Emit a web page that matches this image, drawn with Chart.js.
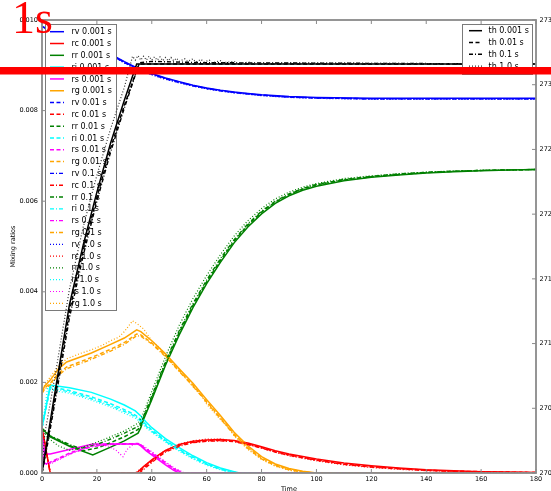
<!DOCTYPE html>
<html>
<head>
<meta charset="utf-8">
<script src="https://cdn.jsdelivr.net/npm/chart.js@4/dist/chart.umd.min.js"></script>
<style>
  html, body { margin: 0; padding: 0; background: #ffffff; }
  canvas { display: block; }
</style>
</head>
<body>
<canvas id="chart" width="551" height="491"></canvas>
<script>
// ---- Mixing ratios [time, value] for each species and time step ----
const rv_0001 = [[0,0.00985],[10,0.00965],[20,0.00940],[27,0.00918],[30,0.00908],[35,0.00893],[40,0.00882],[45,0.00872],[50,0.00864],[55,0.00856],[60,0.00850],[65,0.00845],[70,0.00841],[75,0.00838],[80,0.00835],[90,0.00831],[100,0.00829],[120,0.00827],[150,0.00827],[180,0.00827]];
const rv_001  = [[0,0.00985],[10,0.00964],[20,0.00939],[27,0.00917],[30,0.00907],[35,0.00892],[40,0.00881],[45,0.00871],[50,0.00863],[55,0.00855],[60,0.00849],[65,0.00844],[70,0.00840],[75,0.00837],[80,0.00834],[90,0.00830],[100,0.00828],[120,0.00826],[150,0.00826],[180,0.00826]];
const rv_01   = [[0,0.00985],[10,0.00964],[20,0.00939],[27,0.00916],[30,0.00906],[35,0.00891],[40,0.00880],[45,0.00870],[50,0.00862],[55,0.00855],[60,0.00849],[65,0.00844],[70,0.00840],[75,0.00837],[80,0.00834],[90,0.00830],[100,0.00828],[120,0.00826],[150,0.00826],[180,0.00826]];
const rv_1    = [[0,0.00985],[10,0.00963],[20,0.00937],[27,0.00915],[30,0.00905],[35,0.00890],[40,0.00879],[45,0.00869],[50,0.00861],[55,0.00854],[60,0.00848],[65,0.00843],[70,0.00839],[75,0.00836],[80,0.00833],[90,0.00829],[100,0.00827],[120,0.00825],[150,0.00825],[180,0.00825]];

const rc_0001 = [[0,0.00100],[3,0],[34.5,0],[37,0.00014],[40,0.00029],[42,0.00038],[45,0.00050],[50,0.00063],[55,0.00070],[60,0.00073],[65,0.00074],[70,0.00072],[75,0.00066],[80,0.00058],[85,0.00049],[90,0.00042],[100,0.00031],[110,0.00022],[120,0.00016],[130,0.00011],[140,0.00007],[150,0.00005],[160,0.00003],[170,0.00002],[180,0.00001]];
const rc_001  = [[0,0.00100],[3,0],[35,0],[37.5,0.00013],[40,0.00026],[42,0.00036],[45,0.00048],[50,0.00061],[55,0.00068],[60,0.00071],[65,0.00072],[70,0.00070],[75,0.00064],[80,0.00056],[85,0.00047],[90,0.00040],[100,0.00029],[110,0.00020],[120,0.00014],[130,0.00010],[140,0.00006],[150,0.00004],[160,0.00003],[170,0.00002],[180,0.00001]];
const rc_01   = [[0,0.00100],[3,0],[35.5,0],[38,0.00013],[40,0.00023],[42,0.00033],[45,0.00046],[50,0.00059],[55,0.00067],[60,0.00070],[65,0.00071],[70,0.00069],[75,0.00063],[80,0.00055],[85,0.00046],[90,0.00039],[100,0.00028],[110,0.00019],[120,0.00013],[130,0.00009],[140,0.00006],[150,0.00004],[160,0.00002],[170,0.00001],[180,0.00001]];
const rc_1    = [[0,0.00100],[3,0],[34,0],[36.5,0.00012],[40,0.00028],[42,0.00037],[45,0.00050],[50,0.00064],[55,0.00071],[60,0.00075],[65,0.00075],[70,0.00071],[75,0.00064],[80,0.00055],[85,0.00046],[90,0.00038],[100,0.00027],[110,0.00018],[120,0.00012],[130,0.00008],[140,0.00005],[150,0.00003],[160,0.00002],[170,0.00001],[180,0.00001]];

const rr_0001 = [[0,0.00098],[3,0.00080],[10,0.00059],[18.5,0.00040],[25,0.00057],[30,0.00071],[35,0.00088],[36,0.00100],[37,0.00118],[40,0.00162],[45,0.00238],[50,0.00305],[55,0.00365],[60,0.00418],[65,0.00465],[70,0.00508],[75,0.00543],[80,0.00572],[85,0.00595],[90,0.00612],[95,0.00624],[100,0.00633],[110,0.00645],[120,0.00653],[130,0.00658],[140,0.00662],[150,0.00665],[160,0.00667],[170,0.00669],[180,0.00670]];
const rr_001  = [[0,0.00098],[3,0.00081],[10,0.00061],[15,0.00049],[20,0.00055],[25,0.00067],[30,0.00080],[35,0.00096],[36,0.00106],[37,0.00122],[40,0.00166],[45,0.00242],[50,0.00310],[55,0.00370],[60,0.00422],[65,0.00469],[70,0.00512],[75,0.00547],[80,0.00576],[85,0.00598],[90,0.00615],[95,0.00627],[100,0.00636],[110,0.00647],[120,0.00654],[130,0.00659],[140,0.00663],[150,0.00666],[160,0.00668],[170,0.00669],[180,0.00670]];
const rr_01   = [[0,0.00098],[3,0.00082],[10,0.00063],[14,0.00054],[20,0.00063],[25,0.00075],[30,0.00088],[35,0.00103],[36,0.00111],[37,0.00125],[40,0.00170],[45,0.00246],[50,0.00314],[55,0.00374],[60,0.00426],[65,0.00473],[70,0.00515],[75,0.00550],[80,0.00578],[85,0.00600],[90,0.00616],[95,0.00628],[100,0.00637],[110,0.00648],[120,0.00655],[130,0.00660],[140,0.00664],[150,0.00666],[160,0.00668],[170,0.00669],[180,0.00670]];
const rr_1    = [[0,0.00098],[2,0.00078],[6,0.00060],[10,0.00050],[14,0.00055],[20,0.00068],[25,0.00080],[30,0.00093],[35,0.00110],[36,0.00120],[37,0.00133],[40,0.00180],[45,0.00257],[50,0.00326],[55,0.00385],[60,0.00436],[65,0.00482],[70,0.00523],[75,0.00557],[80,0.00584],[85,0.00605],[90,0.00620],[95,0.00631],[100,0.00639],[110,0.00650],[120,0.00656],[130,0.00661],[140,0.00664],[150,0.00667],[160,0.00668],[170,0.00669],[180,0.00670]];

const ri_0001 = [[0,0.00100],[3,0.00194],[10,0.00188],[18,0.00178],[25,0.00163],[30,0.00150],[34,0.00137],[36,0.00126],[38,0.00112],[40,0.00100],[45,0.00076],[50,0.00056],[55,0.00038],[60,0.00023],[65,0.00011],[70,0.00003],[72,0],[180,0]];
const ri_001  = [[0,0.00100],[3,0.00190],[10,0.00182],[18,0.00168],[25,0.00153],[30,0.00140],[34,0.00128],[36,0.00118],[38,0.00106],[40,0.00095],[45,0.00072],[50,0.00052],[55,0.00035],[60,0.00020],[65,0.00009],[70,0.00002],[71,0],[180,0]];
const ri_01   = [[0,0.00100],[3,0.00188],[10,0.00179],[18,0.00164],[25,0.00149],[30,0.00136],[34,0.00125],[36,0.00115],[38,0.00103],[40,0.00092],[45,0.00070],[50,0.00050],[55,0.00033],[60,0.00019],[65,0.00008],[70,0.00001],[71,0],[180,0]];
const ri_1    = [[0,0.00100],[2,0.00186],[6,0.00180],[10,0.00176],[18,0.00161],[25,0.00146],[30,0.00132],[34,0.00121],[36,0.00112],[38,0.00100],[40,0.00090],[45,0.00068],[50,0.00048],[55,0.00031],[60,0.00017],[65,0.00007],[69,0],[180,0]];

const rs_0001 = [[0,0.00098],[1,0.00042],[3,0.00042],[10,0.00052],[18.5,0.00064],[35,0.00064],[36,0.00060],[38,0.00049],[40,0.00040],[42,0.00031],[45,0.00018],[48,0.00006],[50,0],[180,0]];
const rs_001  = [[0,0.00098],[0.5,0.00022],[3,0.00024],[10,0.00044],[18,0.00060],[25,0.00064],[35,0.00065],[36,0.00062],[38,0.00052],[40,0.00043],[42,0.00034],[45,0.00021],[48,0.00009],[51,0],[180,0]];
const rs_01   = [[0,0.00098],[0.5,0.00020],[3,0.00022],[10,0.00042],[18,0.00058],[25,0.00063],[35,0.00064],[36,0.00062],[38,0.00053],[40,0.00045],[42,0.00036],[45,0.00023],[48,0.00010],[51.5,0],[180,0]];
const rs_1    = [[0,0.00098],[0.5,0.00018],[3,0.00020],[8,0.00035],[14,0.00052],[20,0.00062],[24,0.00060],[27,0.00050],[29.5,0.00036],[31,0.00052],[33,0.00062],[35,0.00064],[36.5,0.00062],[38,0.00055],[40,0.00047],[42,0.00038],[45,0.00025],[48,0.00012],[52,0],[180,0]];

const rg_0001 = [[0,0.00180],[1,0.00192],[3,0.00205],[6,0.00230],[9,0.00245],[18,0.00265],[25,0.00284],[30,0.00298],[34.5,0.00316],[36,0.00312],[40,0.00292],[45,0.00263],[50,0.00230],[55,0.00198],[60,0.00162],[65,0.00127],[70,0.00090],[75,0.00060],[80,0.00036],[85,0.00020],[90,0.00010],[95,0.00004],[100,0],[180,0]];
const rg_001  = [[0,0.00178],[1,0.00188],[3,0.00198],[6,0.00220],[9,0.00234],[18,0.00255],[25,0.00273],[30,0.00288],[34.5,0.00307],[36,0.00305],[40,0.00287],[45,0.00259],[50,0.00226],[55,0.00194],[60,0.00158],[65,0.00122],[70,0.00086],[75,0.00056],[80,0.00033],[85,0.00018],[90,0.00008],[95,0.00003],[99,0],[180,0]];
const rg_01   = [[0,0.00176],[1,0.00185],[3,0.00195],[6,0.00216],[9,0.00230],[18,0.00251],[25,0.00269],[30,0.00284],[34.5,0.00303],[36,0.00302],[40,0.00285],[45,0.00257],[50,0.00224],[55,0.00192],[60,0.00156],[65,0.00120],[70,0.00084],[75,0.00054],[80,0.00031],[85,0.00016],[90,0.00007],[95,0.00002],[98,0],[180,0]];
const rg_1    = [[0,0.00172],[1,0.00195],[3,0.00212],[6,0.00236],[9,0.00252],[14,0.00264],[18,0.00272],[22,0.00282],[25,0.00292],[28,0.00300],[30,0.00312],[33,0.00336],[35,0.00328],[37,0.00318],[40,0.00292],[43,0.00276],[45,0.00260],[48,0.00240],[50,0.00228],[55,0.00190],[58,0.00172],[60,0.00152],[65,0.00118],[68,0.00100],[70,0.00082],[75,0.00052],[80,0.00030],[85,0.00015],[90,0.00006],[95,0.00001],[97,0],[180,0]];

// ---- Potential temperature [time, K] for each time step ----
const th_0001 = [[0,270.00],[2,270.27],[5,270.66],[10,271.30],[15,271.76],[20,272.17],[25,272.55],[30,272.88],[34.5,273.16],[180,273.16]];
const th_001  = [[0,270.00],[2,270.24],[5,270.62],[10,271.25],[15,271.72],[20,272.13],[25,272.51],[30,272.84],[35,273.14],[35.5,273.16],[180,273.16]];
const th_01   = [[0,270.00],[2,270.22],[5,270.58],[10,271.20],[15,271.68],[20,272.10],[25,272.48],[30,272.82],[35.5,273.17],[40,273.18],[60,273.17],[180,273.16]];
const th_1    = [[0,270.00],[1,270.30],[5,270.78],[10,271.42],[15,271.90],[20,272.30],[25,272.66],[30,272.98],[33,273.22],[34,273.19],[35,273.225],[36,273.19],[37,273.22],[38,273.19],[39,273.22],[40,273.19],[41,273.215],[42,273.19],[43,273.215],[44,273.185],[45,273.21],[46,273.185],[47,273.21],[48,273.185],[49,273.205],[50,273.18],[52,273.2],[53,273.18],[55,273.2],[56,273.175],[58,273.195],[59,273.175],[61,273.19],[62,273.17],[65,273.185],[66,273.17],[70,273.18],[71,273.165],[76,273.175],[77,273.165],[90,273.17],[120,273.165],[180,273.16]];

// ---- Axis ticks ----
const timeTicks  = [0, 20, 40, 60, 80, 100, 120, 140, 160, 180];
const mixTicks   = [0.000, 0.002, 0.004, 0.006, 0.008, 0.010];
const thetaTicks = [270.0, 270.5, 271.0, 271.5, 272.0, 272.5, 273.0, 273.5];

// ---- Series bookkeeping ----
const species   = ['rv', 'rc', 'rr', 'ri', 'rs', 'rg'];
const timeSteps = ['0.001', '0.01', '0.1', '1.0'];
const mixBySpecies = {
  rv: [rv_0001, rv_001, rv_01, rv_1],
  rc: [rc_0001, rc_001, rc_01, rc_1],
  rr: [rr_0001, rr_001, rr_01, rr_1],
  ri: [ri_0001, ri_001, ri_01, ri_1],
  rs: [rs_0001, rs_001, rs_01, rs_1],
  rg: [rg_0001, rg_001, rg_01, rg_1]
};
const thetaSeries = [th_0001, th_001, th_01, th_1];

const speciesColor = { rv: '#0000ff', rc: '#ff0000', rr: '#008000', ri: '#00ffff', rs: '#ff00ff', rg: '#ffa500' };
const stepDash  = [[], [4, 2.5], [4, 2, 1, 2], [1, 2]];
const stepWidth = [1.5, 1.5, 1.4, 1.2];

const toXY = pts => pts.map(p => ({ x: p[0], y: p[1] }));

const datasets = [];
let order = 100;
timeSteps.forEach((ts, k) => {
  species.forEach(sp => {
    datasets.push({
      label: sp + ' ' + ts + ' s',
      data: toXY(mixBySpecies[sp][k]),
      yAxisID: 'y',
      borderColor: speciesColor[sp],
      borderDash: stepDash[k],
      borderWidth: stepWidth[k],
      order: order--
    });
  });
});
timeSteps.forEach((ts, k) => {
  datasets.push({
    label: 'th ' + ts + ' s',
    data: toXY(thetaSeries[k]),
    yAxisID: 'yR',
    borderColor: k === 3 ? '#333333' : '#000000',
    borderDash: stepDash[k],
    borderWidth: stepWidth[k],
    order: 10 - k
  });
});

const FONT = '"DejaVu Sans", "Liberation Sans", sans-serif';

// Legend boxes drawn inside the plotting area
function drawLegend(ctx, box, items) {
  ctx.save();
  ctx.fillStyle = '#ffffff';
  ctx.fillRect(box.x, box.y, box.w, box.h);
  ctx.strokeStyle = '#7a7a7a';
  ctx.lineWidth = 1;
  ctx.setLineDash([]);
  ctx.strokeRect(box.x + 0.5, box.y + 0.5, box.w - 1, box.h - 1);
  ctx.font = '8px ' + FONT;
  ctx.textBaseline = 'middle';
  ctx.textAlign = 'left';
  items.forEach((ds, i) => {
    const y = box.row0 + i * box.step;
    ctx.strokeStyle = ds.borderColor;
    ctx.lineWidth = ds.borderWidth;
    ctx.setLineDash(ds.borderDash);
    ctx.beginPath();
    ctx.moveTo(box.line0, y);
    ctx.lineTo(box.line1, y);
    ctx.stroke();
    ctx.fillStyle = '#000000';
    ctx.fillText(ds.label, box.text, y + 0.5);
  });
  ctx.restore();
}

const leftLegendBox  = { x: 45, y: 24, w: 72, h: 287, row0: 31.7, step: 11.81, line0: 50, line1: 64, text: 71.5 };
const rightLegendBox = { x: 462, y: 24, w: 71, h: 51, row0: 30.7, step: 11.8, line0: 469, line1: 482, text: 488.5 };

const decorPlugin = {
  id: 'decor',
  beforeDatasetsDraw(chart) { chart.$leftLegendDone = false; },
  beforeDatasetDraw(chart, args) {
    if (!chart.$leftLegendDone && args.meta.yAxisID === 'yR') {
      drawLegend(chart.ctx, leftLegendBox, chart.data.datasets.filter(d => d.yAxisID === 'y'));
      chart.$leftLegendDone = true;
    }
  },
  afterDatasetsDraw(chart) {
    const ctx = chart.ctx;
    const a = chart.chartArea;
    const sx = chart.scales.x, sy = chart.scales.y, sr = chart.scales.yR;
    ctx.save();
    ctx.strokeStyle = '#8a8a8a';
    ctx.lineWidth = 1;
    ctx.setLineDash([]);
    ctx.beginPath();
    timeTicks.forEach(v => {
      const x = sx.getPixelForValue(v);
      ctx.moveTo(x, a.bottom); ctx.lineTo(x, a.bottom - 4);
      ctx.moveTo(x, a.top); ctx.lineTo(x, a.top + 4);
    });
    mixTicks.forEach(v => {
      const y = sy.getPixelForValue(v);
      ctx.moveTo(a.left, y); ctx.lineTo(a.left + 4, y);
    });
    thetaTicks.forEach(v => {
      const y = sr.getPixelForValue(v);
      ctx.moveTo(a.right, y); ctx.lineTo(a.right - 4, y);
    });
    ctx.stroke();
    ctx.lineWidth = 1.8;
    ctx.strokeRect(a.left, a.top, a.right - a.left, a.bottom - a.top);
    ctx.restore();
    drawLegend(ctx, rightLegendBox, chart.data.datasets.filter(d => d.yAxisID === 'yR'));
  },
  afterDraw(chart) {
    const ctx = chart.ctx;
    ctx.save();
    ctx.fillStyle = '#ff0000';
    ctx.fillRect(0, 67, chart.width, 7.5);
    ctx.font = '46px "Liberation Serif", "DejaVu Serif", serif';
    ctx.textBaseline = 'alphabetic';
    ctx.textAlign = 'left';
    ctx.fillText('1s', 12, 33);
    ctx.restore();
  }
};

Chart.defaults.font.family = FONT;
Chart.defaults.color = '#000000';

new Chart(document.getElementById('chart'), {
  type: 'line',
  data: { datasets },
  plugins: [decorPlugin],
  options: {
    responsive: false,
    animation: false,
    devicePixelRatio: 1,
    parsing: true,
    layout: { padding: { top: 20, left: 0, right: 0, bottom: 0 } },
    elements: {
      line: { tension: 0, fill: false },
      point: { radius: 0, hoverRadius: 0 }
    },
    plugins: { legend: { display: false }, tooltip: { enabled: false } },
    scales: {
      x: {
        type: 'linear', min: 0, max: 180,
        grid: { display: false, drawTicks: false },
        border: { display: false },
        ticks: { font: { size: 6.5 }, color: '#000', padding: 2.5, maxRotation: 0, autoSkip: false },
        afterBuildTicks: s => { s.ticks = timeTicks.map(v => ({ value: v })); },
        afterFit: s => { s.height = 18; },
        title: { display: true, text: 'Time', font: { size: 6.5 }, color: '#000', padding: { top: 0, bottom: -2 } }
      },
      y: {
        type: 'linear', position: 'left', min: 0, max: 0.010,
        grid: { display: false, drawTicks: false },
        border: { display: false },
        ticks: { font: { size: 6.5 }, color: '#000', padding: 4, callback: v => Number(v).toFixed(3) },
        afterBuildTicks: s => { s.ticks = mixTicks.map(v => ({ value: v })); },
        afterFit: s => { s.width = 42; },
        title: { display: true, text: 'Mixing ratios', font: { size: 6.5 }, color: '#000', padding: { top: 9, bottom: 0 } }
      },
      yR: {
        type: 'linear', position: 'right', min: 270, max: 273.5,
        grid: { display: false, drawTicks: false },
        border: { display: false },
        ticks: { font: { size: 6.5 }, color: '#000', padding: 3.5, callback: v => Number(v).toFixed(1) },
        afterBuildTicks: s => { s.ticks = thetaTicks.map(v => ({ value: v })); },
        afterFit: s => { s.width = 15; }
      }
    }
  }
});
</script>
</body>
</html>
